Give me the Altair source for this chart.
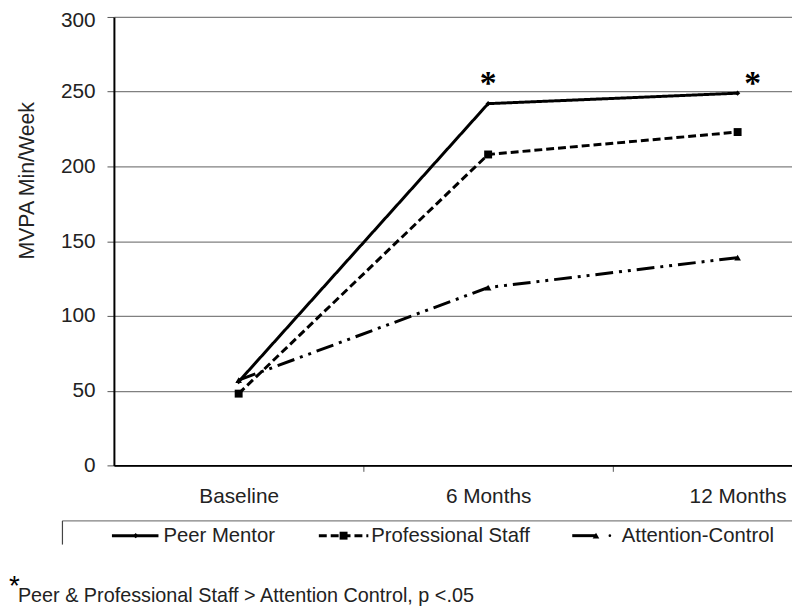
import altair as alt
import pandas as pd

categories = ["Baseline", "6 Months", "12 Months"]
peer = [56, 242, 249]
prof = [48, 208, 223]
attn = [57, 119, 139]
series_names = ["Peer Mentor", "Professional Staff", "Attention-Control"]
y_ticks = [0, 50, 100, 150, 200, 250, 300]
star_x = [1, 2.06]
star_y = [259, 259]
footnote = "Peer & Professional Staff > Attention Control, p <.05"

W, H = 685, 453
TOP = 14  # page y of plot top
FONT = "Liberation Sans"

idx = list(range(len(categories)))
xscale = alt.Scale(domain=[-0.5, 2.218], nice=False, zero=False)
yscale = alt.Scale(domain=[0, 300], nice=False)

label_expr = " : ".join(
    [f"datum.value == {i} ? '{c}'" for i, c in enumerate(categories)]
) + " : ''"

xaxis = alt.Axis(
    values=[0, 0.5, 1, 1.5, 2], labelExpr=label_expr, title=None, grid=False,
    domainColor="black", domainWidth=2, tickColor="#555", tickWidth=1, tickSize=6,
    tickOpacity={"condition": {"test": "datum.value % 1 === 0", "value": 0}, "value": 1},
    labelFont=FONT, labelFontSize=21, labelColor="#222", labelPadding=14,
    labelBaseline="top",
)
yaxis = alt.Axis(
    values=y_ticks, title="MVPA Min/Week", grid=True, gridColor="#808080", gridWidth=1.2,
    domainColor="black", domainWidth=2, tickColor="#555", tickSize=7,
    labelFont=FONT, labelFontSize=21, labelColor="#222", labelPadding=12,
    labelOffset={"condition": {"test": "datum.value == 300", "value": 4}, "value": 0},
    titleFont=FONT, titleFontSize=21.5, titleFontWeight="normal", titleColor="#222",
    titleAngle=270, titleX=-87, titleY=179 - TOP, titleAlign="center", titleBaseline="middle",
)

def df(vals, name):
    return pd.DataFrame({"i": idx, "v": vals, "s": name})

d_peer, d_prof, d_attn = df(peer, series_names[0]), df(prof, series_names[1]), df(attn, series_names[2])

base_x = alt.X("i:Q", scale=xscale, axis=xaxis)
base_y = alt.Y("v:Q", scale=yscale, axis=yaxis)

grid_layer = alt.Chart(d_peer).mark_point(opacity=0).encode(x=base_x, y=base_y)

LW = 3

def line(d, dash, shape, size):
    l = alt.Chart(d).mark_line(color="black", strokeWidth=LW, strokeDash=dash).encode(
        x=alt.X("i:Q", scale=xscale), y=alt.Y("v:Q", scale=yscale))
    p = alt.Chart(d).mark_point(color="black", filled=True, shape=shape, size=size, opacity=1).encode(
        x=alt.X("i:Q", scale=xscale), y=alt.Y("v:Q", scale=yscale))
    return l + p

l_peer = line(d_peer, [1, 0], "diamond", 28)
l_prof = line(d_prof, [8, 4], "square", 64)
l_attn = line(d_attn, [18, 6, 3, 6, 3, 6], "triangle-up", 45)

stars = alt.Chart(pd.DataFrame({"x": star_x, "y": star_y, "t": ["*", "*"]})).mark_text(
    font="Liberation Serif", fontSize=34, fontWeight="bold", color="black", dy=16, baseline="alphabetic"
).encode(x=alt.X("x:Q", scale=xscale), y=alt.Y("y:Q", scale=yscale), text="t:N")

# legend (drawn manually), positions relative to plot origin (115, TOP)
leg_y = 538 - TOP
one = pd.DataFrame({"a": [0]})
leg_box_top = alt.Chart(one).mark_rule(color="#808080", strokeWidth=1.2).encode(
    x=alt.value(-52), x2=alt.value(W), y=alt.value(523 - TOP))
leg_box_left = alt.Chart(one).mark_rule(color="#444", strokeWidth=1.2).encode(
    x=alt.value(-52), y=alt.value(523 - TOP), y2=alt.value(547 - TOP))

s1 = alt.Chart(one).mark_rule(color="black", strokeWidth=LW).encode(
    x=alt.value(-2), x2=alt.value(45), y=alt.value(leg_y))
m1 = alt.Chart(one).mark_point(shape="diamond", filled=True, color="black", size=28, opacity=1).encode(
    x=alt.value(22), y=alt.value(leg_y))
s2 = alt.Chart(one).mark_rule(color="black", strokeWidth=LW, strokeDash=[8, 4]).encode(
    x=alt.value(207), x2=alt.value(257), y=alt.value(leg_y))
m2 = alt.Chart(one).mark_point(shape="square", filled=True, color="black", size=64, opacity=1).encode(
    x=alt.value(232), y=alt.value(leg_y))
s3 = alt.Chart(one).mark_rule(color="black", strokeWidth=LW).encode(
    x=alt.value(463), x2=alt.value(487), y=alt.value(leg_y))
m3 = alt.Chart(one).mark_point(shape="triangle-up", filled=True, color="black", size=45, opacity=1).encode(
    x=alt.value(487), y=alt.value(leg_y))
m3b = alt.Chart(one).mark_point(shape="circle", filled=True, color="black", size=7, opacity=1).encode(
    x=alt.value(501), y=alt.value(leg_y))

leg_text = alt.Chart(pd.DataFrame({"t": series_names, "px": [50, 260, 513]})).mark_text(
    font=FONT, fontSize=20.5, color="#222", align="left", baseline="middle"
).encode(x=alt.X("px:Q", scale=None), y=alt.value(leg_y), text="t:N")

foot_star = alt.Chart(pd.DataFrame({"t": ["*"]})).mark_text(
    font=FONT, fontSize=28, color="black", align="left", baseline="alphabetic"
).encode(x=alt.value(-106), y=alt.value(598 - TOP), text="t:N")
foot_text = alt.Chart(pd.DataFrame({"t": [footnote]})).mark_text(
    font=FONT, fontSize=20, color="#222", align="left", baseline="alphabetic"
).encode(x=alt.value(-97), y=alt.value(605 - TOP), text="t:N")

chart = alt.layer(
    grid_layer, l_attn, l_prof, l_peer, stars,
    leg_box_top, leg_box_left, s1, m1, s2, m2, s3, m3, m3b, leg_text, foot_star, foot_text,
).properties(
    width=W, height=H,
    autosize=alt.AutoSizeParams(type="none"),
    padding={"left": 107, "top": TOP - 8, "right": 0, "bottom": 606 - 8 - (TOP - 8) - H},
).configure_view(stroke=None).configure(background="white")

chart.save("out.html", embed_options={"renderer": "svg", "actions": False})
